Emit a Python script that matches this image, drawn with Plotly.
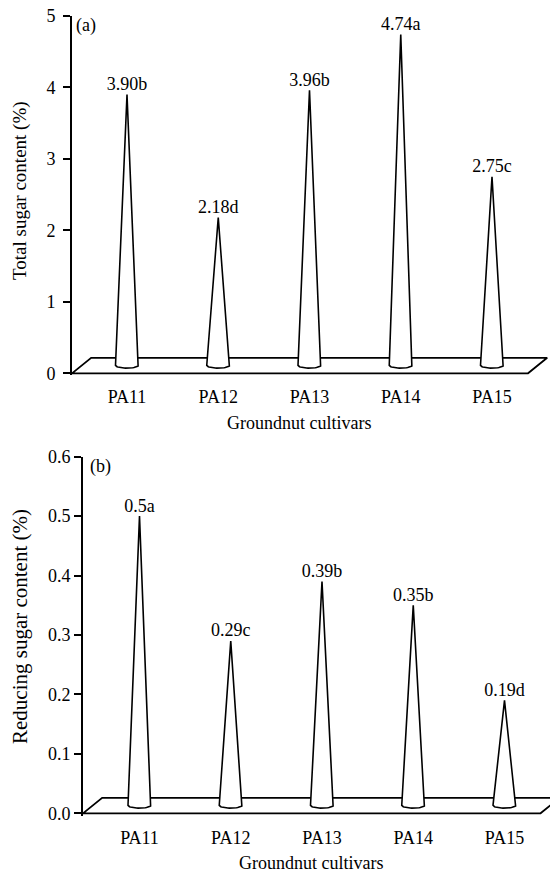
import numpy as np
import plotly.graph_objects as go

# ---------------- data ----------------
cultivars = ["PA11", "PA12", "PA13", "PA14", "PA15"]
total_sugar = [3.90, 2.18, 3.96, 4.74, 2.75]
total_labels = ["3.90b", "2.18d", "3.96b", "4.74a", "2.75c"]
reducing_sugar = [0.50, 0.29, 0.39, 0.35, 0.19]
reducing_labels = ["0.5a", "0.29c", "0.39b", "0.35b", "0.19d"]
total_ticks = [0, 1, 2, 3, 4, 5]
reducing_ticks = [0.0, 0.1, 0.2, 0.3, 0.4, 0.5, 0.6]

# ---------------- layout helpers (window pixels -> paper / data) ----------------
OFF = 8                      # page body margin in the browser
W, H = 558 - OFF, 873 - OFF  # figure size
FONT = "Liberation Serif"
STEP = 91.25                 # px between categories


def px(x):
    return (x - OFF) / W


def py(y):
    return 1 - (y - OFF) / H


fig = go.Figure()


def add_panel(xa, ya, values, labels, ymax, first_px, left_px, right_px,
              zero_px, top_px, ypad):
    ppu = (zero_px - top_px) / ymax            # px per y unit
    x0 = (left_px - first_px) / STEP
    x1 = (right_px - first_px) / STEP
    xref = "x" if xa == 1 else f"x{xa}"
    yref = "y" if ya == 1 else f"y{ya}"
    # floor (3-D base)
    depth = 15.5 / ppu
    dx = 0.21
    front_r = 4.395
    fx = [x0, front_r, front_r + dx, x0 + dx, x0]
    fy = [0, 0, depth, depth, 0]
    fig.add_trace(go.Scatter(x=fx, y=fy, mode="lines",
                             line=dict(color="black", width=1.8),
                             xaxis=xref, yaxis=yref, hoverinfo="skip"))
    # cones
    hw = 11.5 / STEP
    base = 8.0 / ppu
    dip = 2.8 / ppu
    t = np.linspace(0, np.pi, 25)
    for i, v in enumerate(values):
        cx = [i] + list(i + hw * np.cos(t)) + [i]
        cy = [v] + list(base - dip * np.sin(t)) + [v]
        fig.add_trace(go.Scatter(x=cx, y=cy, mode="lines", fill="toself",
                                 fillcolor="white",
                                 line=dict(color="black", width=1.6),
                                 xaxis=xref, yaxis=yref, hoverinfo="skip"))
    # value labels
    fig.add_trace(go.Scatter(x=list(range(len(values))), y=values,
                             mode="text", text=labels,
                             textposition="top center", cliponaxis=False,
                             textfont=dict(family=FONT, size=18, color="black"),
                             xaxis=xref, yaxis=yref, hoverinfo="skip"))
    return dict(x0=x0, x1=x1, ylo=-ypad,
                xdomain=[px(left_px), min(1.0, px(right_px))],
                ydomain=[py(zero_px + ypad * ppu), py(top_px)])


pa = add_panel(1, 1, total_sugar, total_labels, 5, 127, 72, 550, 373.3, 16, 0.03)
pb = add_panel(2, 2, reducing_sugar, reducing_labels, 0.6, 139.5, 83, 558, 813.3, 456.7, 0.004)

axis_common = dict(showgrid=False, zeroline=False, automargin=False,
                   ticklabeloverflow="allow",
                   tickfont=dict(family=FONT, size=18, color="black"))

fig.update_layout(
    template="none",
    width=W, height=H, margin=dict(l=0, r=0, t=0, b=0, pad=0),
    paper_bgcolor="white", plot_bgcolor="white", showlegend=False,
    hovermode=False,
    xaxis=dict(domain=pa["xdomain"], range=[pa["x0"], pa["x1"]], anchor="y",
               tickvals=list(range(5)), ticktext=cultivars, showline=False,
               ticks="", ticklabelstandoff=9, **axis_common),
    yaxis=dict(domain=pa["ydomain"], range=[pa["ylo"], 5], anchor="x",
               tickvals=total_ticks, ticks="outside", ticklen=7, tickwidth=1.6,
               tickcolor="black", showline=True, linecolor="black",
               linewidth=1.8, ticklabelstandoff=4, **axis_common),
    xaxis2=dict(domain=pb["xdomain"], range=[pb["x0"], pb["x1"]], anchor="y2",
                tickvals=list(range(5)), ticktext=cultivars, showline=False,
                ticks="", ticklabelstandoff=9, **axis_common),
    yaxis2=dict(domain=pb["ydomain"], range=[pb["ylo"], 0.6], anchor="x2",
                tickvals=reducing_ticks, tickformat=".1f", ticks="outside",
                ticklen=7, tickwidth=1.6, tickcolor="black", showline=True,
                linecolor="black", linewidth=1.8, **axis_common),
)

ann = [
    dict(text="(a)", x=px(86), y=py(25.5), size=18),
    dict(text="(b)", x=px(100), y=py(466.5), size=18),
    dict(text="Groundnut cultivars", x=px(299), y=py(422.5), size=18),
    dict(text="Groundnut cultivars", x=px(311), y=py(863), size=18),
    dict(text="Total sugar content (%)", x=px(20), y=py(191), size=19, textangle=-90),
    dict(text="Reducing sugar content (%)", x=px(20), y=py(627), size=21, textangle=-90),
]
for a in ann:
    size = a.pop("size")
    fig.add_annotation(xref="paper", yref="paper", xanchor="center",
                       yanchor="middle", showarrow=False,
                       font=dict(family=FONT, size=size, color="black"), **a)

fig.write_html("out.html")
